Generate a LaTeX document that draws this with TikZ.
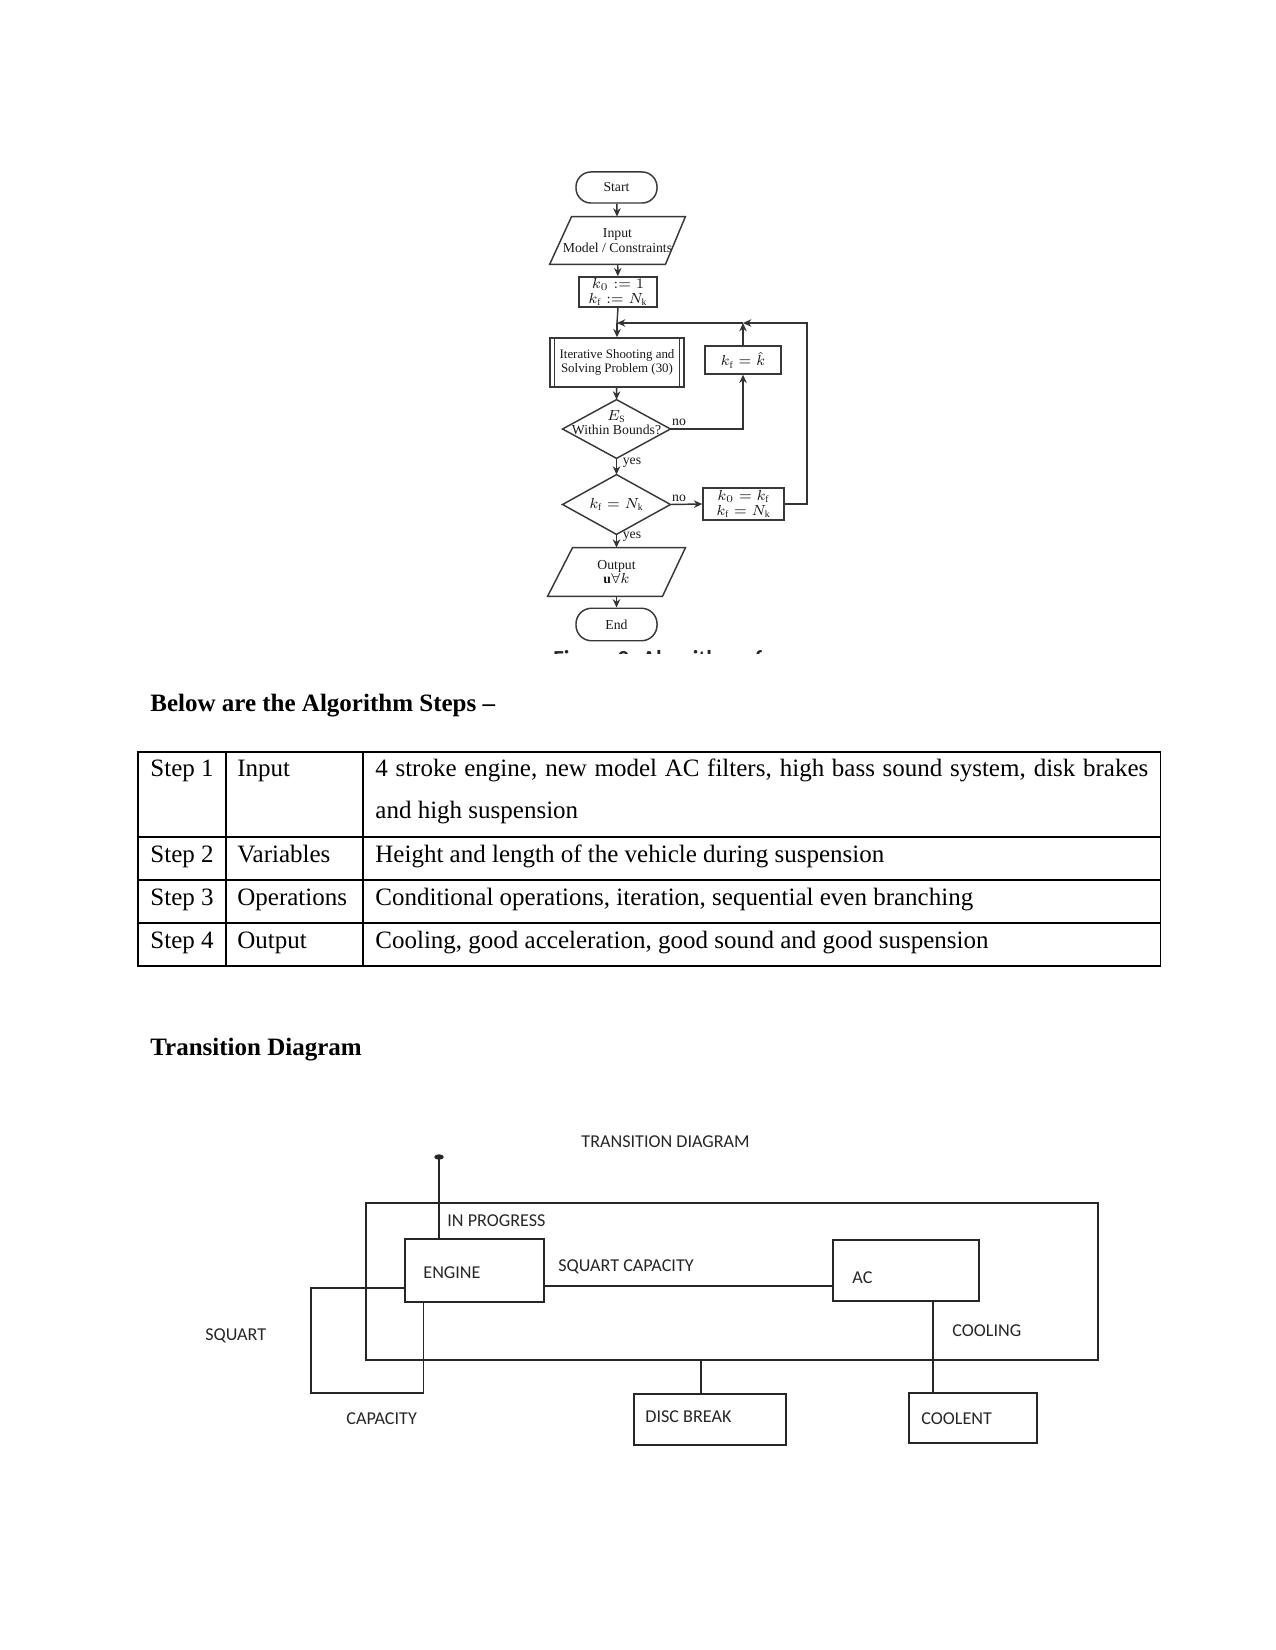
\documentclass[tikz,border=0pt]{standalone}
\usepackage{fontspec}
\setmainfont{Liberation Serif}
\newfontfamily\carl{Carlito}
\usetikzlibrary{arrows.meta,calc,shapes.geometric}
\begin{document}
\begin{tikzpicture}[x=0.48pt,y=-0.48pt,
  fcline/.style={draw=black!78, line width=0.7pt},
  fctext/.style={font=\fontsize{6.6}{7}\selectfont, text=black!90, inner sep=0pt, align=center},
  fcbox/.style={fcline, fctext},
  fcnode/.style={fctext, draw=none},
  arr/.style={draw=black!80, line width=0.7pt, -{Stealth[length=4pt,width=3.6pt]}},
  tdline/.style={draw=black!85, line width=0.55pt},
  tdbox/.style={tdline, inner sep=0pt},
  tdtext/.style={font=\carl\fontsize{8.7}{10}\selectfont, text=black!85, anchor=west, inner sep=0pt},
  tabtext/.style={font=\fontsize{12}{14}\selectfont, anchor=base west, inner sep=0pt},
  heading/.style={font=\fontsize{12}{14}\selectfont\bfseries, anchor=base west, inner sep=0pt},
  tabline/.style={draw=black, line width=0.5pt}]
\useasboundingbox (0,0) rectangle (1275,1650);

% ---------------- flowchart ----------------
\node[fcbox, rounded corners=7.2pt, minimum width=38.9pt, minimum height=14.9pt] (start) at (616.5,187.5) {Start};
\node[fcnode, minimum width=64.8pt, minimum height=22.6pt] (inp) at (617.5,240.5) {Input\\Model / Constraints};
\draw[fcline] ($(inp.north west)+(22,0)$) -- (inp.north east) -- ($(inp.south east)+(-20,0)$) -- (inp.south west) -- cycle;
\node[fcbox, minimum width=37.4pt, minimum height=14.4pt] (init) at (618,292) {$k_0 := 1$\\$k_{\mathrm f} := N_{\mathrm k}$};
\coordinate (j1) at (617,323);
\coordinate (j2) at (743,323);
\coordinate (rc) at (807,323);
\node[fcbox, font=\fontsize{6.2}{7}\selectfont, minimum width=64.3pt, minimum height=23.5pt] (iter) at (617,362.5) {Iterative Shooting and\\Solving Problem (30)};
\draw[fcline] ($(iter.north west)+(5,0)$) -- ($(iter.south west)+(5,0)$);
\draw[fcline] ($(iter.north east)+(-5,0)$) -- ($(iter.south east)+(-5,0)$);
\node[fcbox, minimum width=36.5pt, minimum height=13.4pt] (kfk) at (743,360) {$k_{\mathrm f} = \hat{k}$};
\node[fcnode, minimum width=51.4pt, minimum height=27.8pt,
  label={[fctext,yshift=3pt]center:{$E_{\mathrm S}$\\Within Bounds?}}] (d1) at (616.5,429) {};
\draw[fcline] (d1.north) -- (d1.east) -- (d1.south) -- (d1.west) -- cycle;
\node[fcnode, minimum width=51.4pt, minimum height=28.3pt] (d2) at (616.5,504.5) {$k_{\mathrm f} = N_{\mathrm k}$};
\draw[fcline] (d2.north) -- (d2.east) -- (d2.south) -- (d2.west) -- cycle;
\node[fcbox, minimum width=38.9pt, minimum height=15.4pt] (k0kf) at (743.5,504) {$k_0 = k_{\mathrm f}$\\$k_{\mathrm f} = N_{\mathrm k}$};
\node[fcnode, minimum width=65.8pt, minimum height=23pt] (out) at (616.5,572) {Output\\$\mathbf{u}\forall k$};
\draw[fcline] ($(out.north west)+(25,0)$) -- (out.north east) -- ($(out.south east)+(-23,0)$) -- (out.south west) -- cycle;
\node[fcbox, rounded corners=7.5pt, minimum width=38.9pt, minimum height=15.6pt] (end) at (616.5,624.5) {End};

\draw[arr] (start) -- (inp);
\draw[arr] (inp) -- (init);
\draw[fcline] (init.south) -- (j1);
\draw[arr] (j1) -- (iter.north);
\draw[arr] (iter) -- (d1.north);
\draw[arr] (d1.east) -| (kfk.south);
\draw[arr] (kfk.north) -- (j2);
\draw[arr] (k0kf.east) -| (rc) -- (j2);
\draw[arr] (j2) -- (j1);
\draw[arr] (d1.south) -- (d2.north);
\draw[arr] (d2.east) -- (k0kf.west);
\draw[arr] (d2.south) -- (out.north);
\draw[arr] (out.south) -- (end.north);
\node[fctext] (no1) at (679,422) {no};
\node[fctext] (no2) at (679,498) {no};
\node[fctext] (yes1) at (632,463) {yes};
\node[fctext] (yes2) at (632,537) {yes};

% clipped caption fragment
\begin{scope}
\clip (540,640) rectangle (830,653);
\node[font=\carl\fontsize{11}{13}\selectfont\bfseries, text=black!85, anchor=base west, inner sep=0pt] (cap) at (553,666) {Figure 3: Algorithm of};
\end{scope}

% ---------------- table ----------------
\node[heading] (h1) at (150,711) {Below are the Algorithm Steps --};
\draw[tabline] (138,752) rectangle (1160,966);
\draw[tabline] (138,837) -- (1160,837);
\draw[tabline] (138,880) -- (1160,880);
\draw[tabline] (138,923) -- (1160,923);
\draw[tabline] (226,752) -- (226,966);
\draw[tabline] (363,752) -- (363,966);

\node[tabtext] (s1) at (150,776) {Step 1};
\node[tabtext] (c1) at (237,776) {Input};
\node[tabtext] (d1a) at (375,776) {\makebox[371pt][s]{4 stroke engine, new model AC filters, high bass sound system, disk brakes}};
\node[tabtext] (d1b) at (375,818) {and high suspension};
\node[tabtext] (s2) at (150,862) {Step 2};
\node[tabtext] (c2) at (237,862) {Variables};
\node[tabtext] (dd2) at (375,862) {Height and length of the vehicle during suspension};
\node[tabtext] (s3) at (150,905) {Step 3};
\node[tabtext] (c3) at (237,905) {Operations};
\node[tabtext] (dd3) at (375,905) {Conditional operations, iteration, sequential even branching};
\node[tabtext] (s4) at (150,948) {Step 4};
\node[tabtext] (c4) at (237,948) {Output};
\node[tabtext] (dd4) at (375,948) {Cooling, good acceleration, good sound and good suspension};

\node[heading] (h2) at (150,1055) {Transition Diagram};

% ---------------- transition diagram ----------------
\node[tdtext] (tdt) at (581,1142) {TRANSITION DIAGRAM};
\node[tdbox, minimum width=351.4pt, minimum height=75.4pt] (big) at (732,1281.5) {};
\node[tdbox, fill=white, minimum width=66.7pt, minimum height=30.2pt] (engine) at (474.5,1270.5) {};
\node[tdbox, minimum width=70.1pt, minimum height=29.3pt] (ac) at (906,1270.5) {};
\node[tdbox, minimum width=73pt, minimum height=24.5pt] (disc) at (710,1419.5) {};
\node[tdbox, minimum width=61.4pt, minimum height=24pt] (coolent) at (973,1418) {};
\node[ellipse, fill=black!85, inner sep=0pt, minimum width=4.6pt, minimum height=2.6pt] (dot) at (439,1157) {};

\draw[tdline] (dot.center) -- (dot |- engine.north);
\draw[tdline] ($(engine.west)+(0,17.5)$) -| (311,1393) -| ($(engine.south west)+(19,0)$);
\draw[tdline] ($(engine.east)+(0,15.5)$) -- ($(ac.west)+(0,15.5)$);
\coordinate (cx) at (933,0);
\coordinate (dx) at (701,0);
\draw[tdline] (ac.south -| cx) -- (coolent.north -| cx);
\draw[tdline] (big.south -| dx) -- (disc.north -| dx);

\node[tdtext] (tinp) at (447,1221) {IN PROGRESS};
\node[tdtext] (teng) at (423,1273) {ENGINE};
\node[tdtext] (tsc) at (558,1267) {SQUART CAPACITY};
\node[tdtext] (tac) at (852,1278) {AC};
\node[tdtext] (tsq) at (205,1336) {SQUART};
\node[tdtext] (tcool) at (952,1331) {COOLING};
\node[tdtext] (tcap) at (346,1419) {CAPACITY};
\node[tdtext] (tdisc) at (645,1417) {DISC BREAK};
\node[tdtext] (tcoolent) at (921,1419) {COOLENT};
\end{tikzpicture}
\end{document}
